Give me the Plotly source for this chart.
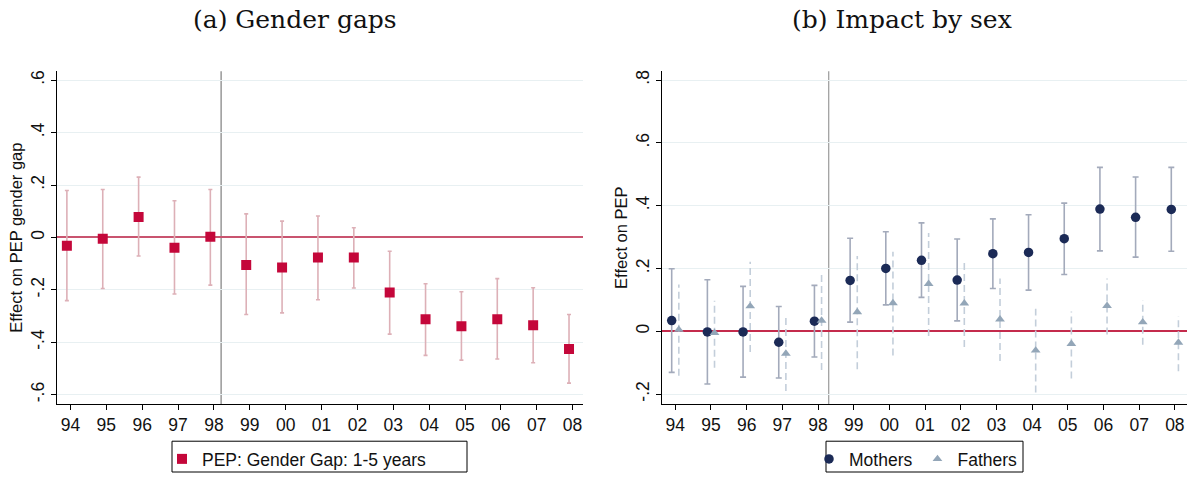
import plotly.graph_objects as go

years = ["94", "95", "96", "97", "98", "99", "00", "01", "02", "03", "04", "05", "06", "07", "08"]

# Panel (a): gender gap
gap_est = [-0.032, -0.005, 0.078, -0.039, 0.003, -0.105, -0.115, -0.077, -0.077, -0.210, -0.312, -0.339, -0.312, -0.335, -0.426]
gap_hi = [0.179, 0.183, 0.230, 0.140, 0.183, 0.090, 0.062, 0.082, 0.037, -0.053, -0.177, -0.207, -0.157, -0.192, -0.294]
gap_lo = [-0.241, -0.195, -0.071, -0.216, -0.182, -0.294, -0.288, -0.238, -0.193, -0.369, -0.450, -0.468, -0.464, -0.478, -0.556]

# Panel (b): mothers and fathers
mom_est = [0.034, -0.002, -0.002, -0.035, 0.032, 0.162, 0.200, 0.226, 0.163, 0.247, 0.251, 0.295, 0.389, 0.363, 0.388]
mom_hi = [0.199, 0.164, 0.143, 0.079, 0.146, 0.296, 0.317, 0.345, 0.294, 0.358, 0.371, 0.408, 0.522, 0.491, 0.522]
mom_lo = [-0.131, -0.168, -0.146, -0.149, -0.082, 0.029, 0.084, 0.108, 0.033, 0.136, 0.131, 0.181, 0.256, 0.236, 0.255]

dad_est = [0.005, -0.005, 0.080, -0.071, 0.034, 0.061, 0.090, 0.151, 0.089, 0.038, -0.061, -0.040, 0.081, 0.029, -0.036]
dad_hi = [0.149, 0.097, 0.221, 0.044, 0.187, 0.240, 0.253, 0.313, 0.221, 0.168, 0.072, 0.063, 0.168, 0.098, 0.049]
dad_lo = [-0.142, -0.116, -0.066, -0.190, -0.123, -0.121, -0.077, -0.015, -0.050, -0.095, -0.195, -0.150, -0.010, -0.043, -0.127]

ytick_a_vals = [-0.6, -0.4, -0.2, 0, 0.2, 0.4, 0.6]
ytick_a_text = ["-.6", "-.4", "-.2", "0", ".2", ".4", ".6"]
ytick_b_vals = [-0.2, 0, 0.2, 0.4, 0.6, 0.8]
ytick_b_text = ["-.2", "0", ".2", ".4", ".6", ".8"]

idx = list(range(len(years)))
xa = [i - 0.1 for i in idx]
xm = [i - 0.1 for i in idx]
xf = [i + 0.1 for i in idx]

RED = "#C4073A"
NAVY = "#1B2A56"
LBLUE = "#93A6B8"
FONT = "Liberation Sans"
W, H = 1192, 477

fig = go.Figure()

# Panel a
fig.add_trace(go.Scatter(
    x=xa, y=gap_est, mode="markers",
    marker=dict(symbol="square", size=10, color=RED),
    error_y=dict(type="data", symmetric=False,
                 array=[h - e for h, e in zip(gap_hi, gap_est)],
                 arrayminus=[e - l for e, l in zip(gap_est, gap_lo)],
                 color="#DDB0B7", thickness=1.6, width=2),
    name="PEP: Gender Gap: 1-5 years", legend="legend",
    xaxis="x", yaxis="y"))

# Panel b: fathers dashed CIs
fx, fy = [], []
for x, lo, hi in zip(xf, dad_lo, dad_hi):
    fx += [x, x, None]
    fy += [lo, hi, None]
fig.add_trace(go.Scatter(x=fx, y=fy, mode="lines",
                         line=dict(color="#C3CEDA", width=1.6, dash="7px,4px"),
                         showlegend=False, hoverinfo="skip", xaxis="x2", yaxis="y2"))

fig.add_trace(go.Scatter(
    x=xm, y=mom_est, mode="markers",
    marker=dict(symbol="circle", size=9.5, color=NAVY),
    error_y=dict(type="data", symmetric=False,
                 array=[h - e for h, e in zip(mom_hi, mom_est)],
                 arrayminus=[e - l for e, l in zip(mom_est, mom_lo)],
                 color="#A3AABB", thickness=1.6, width=3),
    name="Mothers", legend="legend2", xaxis="x2", yaxis="y2"))

fig.add_trace(go.Scatter(
    x=xf, y=dad_est, mode="markers",
    marker=dict(symbol="triangle-up", size=8.5, color=LBLUE),
    name="Fathers", legend="legend2", xaxis="x2", yaxis="y2"))

axis_common = dict(
    showline=True, linecolor="black", linewidth=1.2, mirror=False,
    ticks="outside", ticklen=5, tickcolor="black", tickwidth=1,
    tickfont=dict(family=FONT, size=17.5, color="#111"),
)

x_tickvals = idx
fig.update_layout(
    width=W, height=H,
    margin=dict(l=0, r=0, t=0, b=0),
    plot_bgcolor="white", paper_bgcolor="white",
    font=dict(family=FONT, color="#111"),
    xaxis=dict(domain=[0.0478, 0.4888], range=[-0.376, 14.28],
               tickvals=x_tickvals, ticktext=years, showgrid=False, zeroline=False,
               anchor="y", **axis_common),
    yaxis=dict(domain=[0.1474, 0.8497], range=[-0.636, 0.634],
               tickvals=ytick_a_vals, ticktext=ytick_a_text, tickangle=-90,
               showgrid=True, gridcolor="#E8F0F2", gridwidth=1.2,
               zeroline=True, zerolinecolor="#C9546F", zerolinewidth=2,
               title=dict(text="Effect on PEP gender gap", font=dict(size=16.5, family=FONT), standoff=1),
               anchor="x", **axis_common),
    xaxis2=dict(domain=[0.5556, 0.9961], range=[-0.364, 14.35],
                tickvals=x_tickvals, ticktext=years, showgrid=False, zeroline=False,
                anchor="y2", **axis_common),
    yaxis2=dict(domain=[0.1474, 0.8497], range=[-0.232, 0.828],
                tickvals=ytick_b_vals, ticktext=ytick_b_text, tickangle=-90,
                showgrid=True, gridcolor="#E8F0F2", gridwidth=1.2,
                zeroline=True, zerolinecolor="#C42B4C", zerolinewidth=1.6,
                title=dict(text="Effect on PEP", font=dict(size=16.5, family=FONT), standoff=1),
                anchor="x2", **axis_common),
    legend=dict(x=162 / W, y=0.0692, xanchor="left", yanchor="top",
                orientation="h", borderwidth=0,
                bgcolor="rgba(0,0,0,0)", font=dict(size=17.5, family=FONT),
                itemwidth=30, tracegroupgap=0),
    legend2=dict(x=809 / W, y=0.0692, xanchor="left", yanchor="top",
                 orientation="h", borderwidth=0,
                 bgcolor="rgba(0,0,0,0)", font=dict(size=17.5, family=FONT),
                 itemwidth=30, tracegroupgap=0),
    showlegend=True,
)

# legend frames
fig.add_shape(type="rect", xref="paper", yref="paper",
              x0=172 / W, x1=467 / W, y0=1 - 475 / H, y1=1 - 444 / H,
              line=dict(color="black", width=1), fillcolor="rgba(0,0,0,0)")
fig.add_shape(type="rect", xref="paper", yref="paper",
              x0=826 / W, x1=1023 / W, y0=1 - 475 / H, y1=1 - 444 / H,
              line=dict(color="black", width=1), fillcolor="rgba(0,0,0,0)")

# vertical reference lines
fig.add_shape(type="line", xref="x", yref="y domain", x0=4.2, x1=4.2, y0=0, y1=1,
              line=dict(color="#7F7F7F", width=1.2), layer="below")
fig.add_shape(type="line", xref="x2", yref="y2 domain", x0=4.3, x1=4.3, y0=0, y1=1,
              line=dict(color="#9A9A9A", width=1.2), layer="below")

fig.add_annotation(text="(a) Gender gaps", x=0.2475, y=0.958, xref="paper", yref="paper",
                   xanchor="center", yanchor="middle",
                   showarrow=False, font=dict(family="DejaVu Serif", size=25, color="#111"))
fig.add_annotation(text="(b) Impact by sex", x=0.757, y=0.958, xref="paper", yref="paper",
                   xanchor="center", yanchor="middle",
                   showarrow=False, font=dict(family="DejaVu Serif", size=25, color="#111"))

fig.write_html("out.html", config={"displayModeBar": False},
               post_script="document.body.style.margin='0px';document.body.style.overflow='hidden';")
